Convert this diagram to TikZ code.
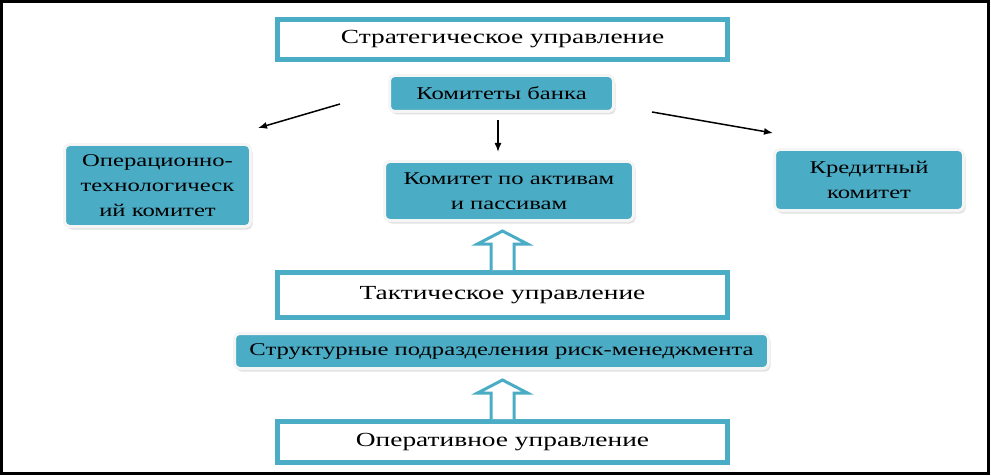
\documentclass[tikz,border=0pt]{standalone}
\usepackage{fontspec}
\setmainfont{Liberation Serif}[FakeStretch=1.37]
\usetikzlibrary{arrows.meta,shadows,calc}
\definecolor{aqua}{HTML}{4BACC6}
\tikzset{
  level/.style={draw=aqua,fill=white,line width=5pt,minimum width=450pt,
    inner sep=0pt,font=\fontsize{20}{24}\selectfont},
  committee/.style={draw=gray!8,fill=aqua,line width=3pt,rounded corners=5pt,
    inner sep=0pt,align=center,font=\fontsize{18}{25}\selectfont,
    drop shadow={shadow xshift=2pt,shadow yshift=-3pt,fill=gray!45}},
  thinarrow/.style={line width=1.5pt,-{Latex[length=9pt,width=7pt]}},
  hollow/.style={draw=aqua,fill=white,line width=3pt,line join=miter}
}
\begin{document}
\begin{tikzpicture}[x=1pt,y=-1pt]
    \useasboundingbox (0,0) rectangle (991,476);
    %% frame
    \draw[line width=3pt] (1.5,1.5) rectangle (988,473);
    %% levels of management
    \node[level,minimum height=40pt] (strat) at (502.5,39.5) {Стратегическое управление};
    \node[level,minimum height=45pt] (tact) at (502.5,295) {Тактическое управление};
    \node[level,minimum height=41pt] (oper) at (502.5,442) {Оперативное управление};
    %% committees
    \node[committee,minimum width=224pt,minimum height=36pt] (bank) at (501.5,93.5) {Комитеты банка};
    \node[committee,minimum width=186pt,minimum height=82pt] (optech) at (157.5,185.5) {Операционно-\\технологическ\\ий комитет};
    \node[committee,minimum width=249pt,minimum height=59pt] (alm) at (509,191) {Комитет по активам\\и пассивам};
    \node[committee,minimum width=189pt,minimum height=61pt] (credit) at (869,180) {Кредитный\\комитет};
    \node[committee,minimum width=534pt,minimum height=35pt] (struct) at (501.5,351) {Структурные подразделения риск-менеджмента};
    %% thin arrows
    \coordinate (lstart) at (340,104);
    \coordinate (lend) at (258,128);
    \coordinate (rstart) at (652,112);
    \coordinate (rend) at (773,133);
    \draw[thinarrow] (lstart) -- (lend);
    \draw[thinarrow] (rstart) -- (rend);
    \draw[thinarrow,shorten <=7pt,shorten >=8pt] ([xshift=-3.5pt]bank.south) -- ([xshift=-3.5pt]bank.south |- alm.north);
    %% block arrows
    \foreach \n in {tact,oper}
        \draw[hollow] ($(\n.north)+(-11.5,0)$) -- ++(0,-26) -- ++(-13.5,0) -- ++(25,-13) -- ++(25,13) -- ++(-13.5,0) -- ++(0,26);
\end{tikzpicture}
\end{document}
